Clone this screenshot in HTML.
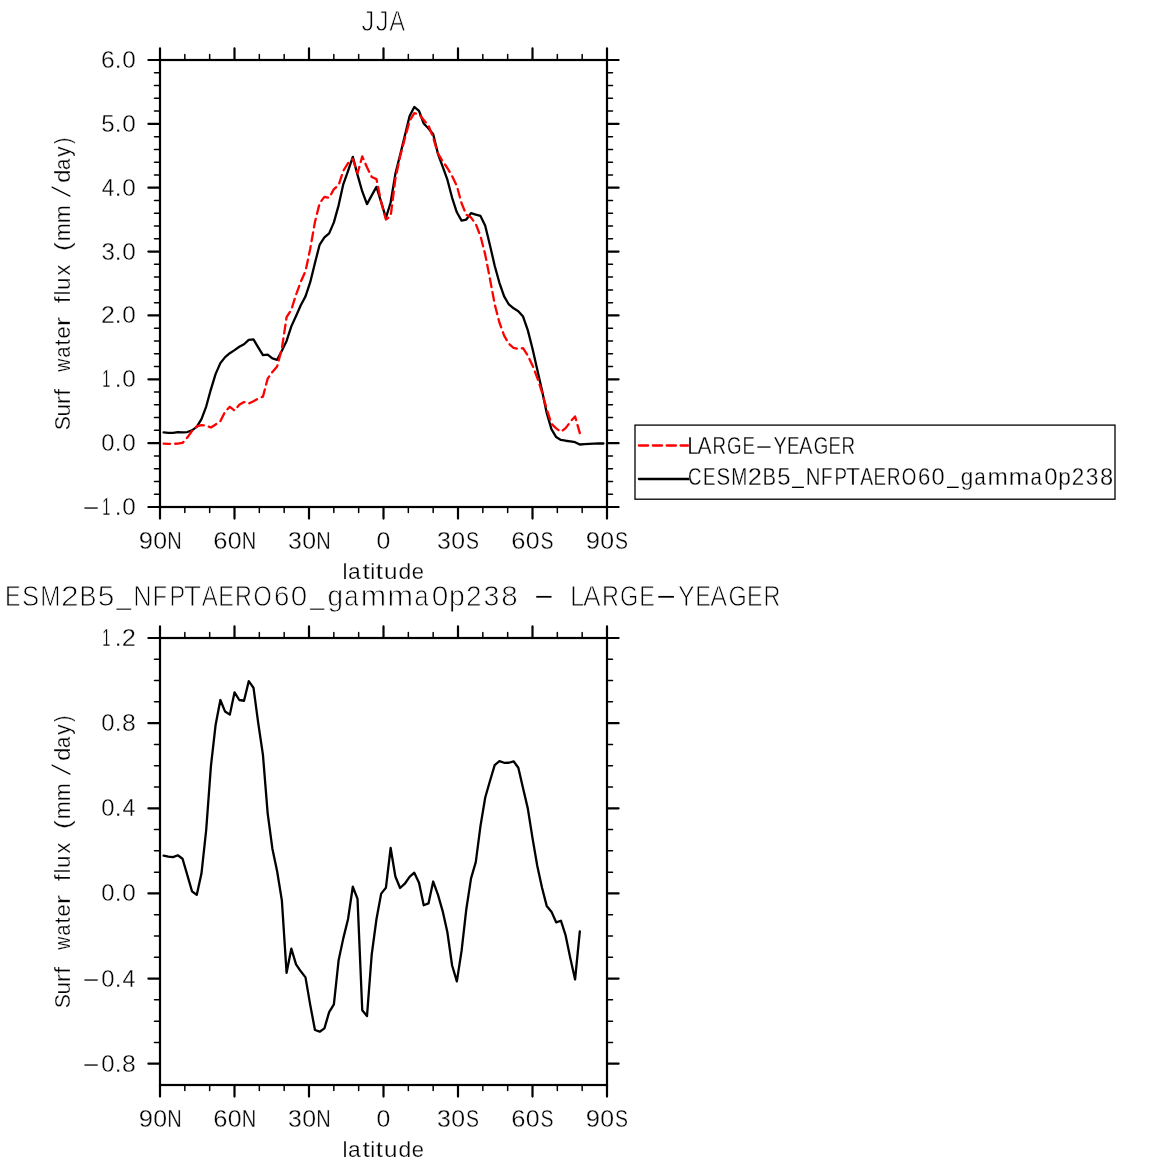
<!DOCTYPE html>
<html lang="en">
<head>
<meta charset="utf-8">
<title>JJA Surf water flux</title>
<style>
html,body{margin:0;padding:0;background:#fff;}
body{width:1167px;height:1167px;overflow:hidden;}
svg{display:block;}
text,.t{font-family:"Liberation Sans",sans-serif;fill:#000;stroke:#fff;paint-order:fill stroke;}
.frame{fill:none;stroke:#000;stroke-width:2.2;}
.maj{fill:none;stroke:#000;stroke-width:2.2;stroke-linecap:round;}
.min{fill:none;stroke:#000;stroke-width:1.5;stroke-linecap:round;}
.cb{fill:none;stroke:#000;stroke-width:2.3;stroke-linejoin:round;stroke-linecap:round;}
.cr{fill:none;stroke:#f00;stroke-width:2.3;stroke-linejoin:round;stroke-linecap:round;stroke-dasharray:8.74 5.125;stroke-dashoffset:2.3;}
.lg{stroke-dasharray:9.2 4.7;stroke-dashoffset:0;}
.lbox{fill:none;stroke:#000;stroke-width:1.3;}
</style>
</head>
<body>
<svg width="1167" height="1167" viewBox="0 0 1167 1167">
<rect x="0" y="0" width="1167" height="1167" fill="#fff"/>
<g id="plot1">
<polyline class="cb" points="163.62,432.38 168.35,432.79 173.08,432.91 177.81,432.23 182.54,432.45 187.27,432.04 192,430.32 196.73,426.89 201.46,419.2 206.19,406.56 210.92,389.31 215.64,373.87 220.37,363.16 225.1,357.11 229.83,353.16 234.56,350.1 239.29,346.79 244.02,344.22 248.75,339.81 253.48,339.46 258.21,347.38 262.94,355.07 267.67,354.61 272.4,358.46 277.13,359.8 281.86,350.7 286.59,340.94 291.32,326.39 296.05,315.92 300.78,305.2 305.5,296.36 310.23,282.22 314.96,263 319.69,244.54 324.42,237.4 329.15,233.37 333.88,222.41 338.61,205.34 343.34,184.09 348.07,170.83 352.8,156.84 357.53,174.91 362.26,191.46 366.99,204.1 371.72,195.34 376.45,186.83 381.18,202.07 385.91,217.81 390.64,202.52 395.37,173.84 400.1,154.93 404.82,135.66 409.55,116.17 414.28,106.95 419.01,110.85 423.74,123.52 428.47,128.45 433.2,134.16 437.93,153.77 442.66,166.59 447.39,179.67 452.12,197.8 456.85,212.29 461.58,220.56 466.31,219.53 471.04,213.08 475.77,214.56 480.5,215.94 485.23,225.82 489.96,245.19 494.69,265.69 499.41,282.79 504.14,296.45 508.87,304.48 513.6,308.35 518.33,311.21 523.06,316.53 527.79,330.15 532.52,348.8 537.25,369.46 541.98,390.31 546.71,412.93 551.44,429.17 556.17,437.06 560.9,439.95 565.63,440.74 570.36,441.27 575.09,442.23 579.82,444.52 584.55,444.2 589.27,443.8 594,443.6 598.73,443.5 603.46,443.5"/>
<polyline class="cr" points="163.62,443.72 168.35,443.81 173.08,443.79 177.81,443.67 182.54,442.86 187.27,437.63 192,430.96 196.73,426.45 201.46,425.14 206.19,425.59 210.92,427.51 215.64,424.48 220.37,421.18 225.1,411.67 229.83,406.8 234.56,410.43 239.29,404.81 244.02,402.03 248.75,403.49 253.48,401.17 258.21,398.57 262.94,396.63 267.67,378.65 272.4,371.89 277.13,366.46 281.86,348.62 286.59,317.12 291.32,309.82 296.05,294.64 300.78,281.84 305.5,271.18 310.23,248.79 314.96,222.02 319.69,203.06 324.42,196.91 329.15,197.76 333.88,189.12 338.61,185.27 343.34,170.68 348.07,163.18 352.8,158.85 357.53,173.25 362.26,156.41 366.99,167.31 371.72,177.02 376.45,179.08 381.18,202 385.91,219.49 390.64,216.15 395.37,178.92 400.1,156.56 404.82,138.57 409.55,121.12 414.28,113.19 419.01,114.09 423.74,119.97 428.47,125.45 433.2,137.74 437.93,153.42 442.66,161.3 447.39,168 452.12,176.18 456.85,185.92 461.58,203.31 466.31,214.79 471.04,217.59 475.77,223.97 480.5,236.19 485.23,254.6 489.96,278.93 494.69,304.16 499.41,322.5 504.14,335.64 508.87,343.68 513.6,347.99 518.33,348.92 523.06,348.09 527.79,355.66 532.52,365.38 537.25,377.75 541.98,392.07 546.71,409.19 551.44,423.71 556.17,428.38 560.9,431.76 565.63,428.13 570.36,421.79 575.09,416.44 579.82,433.12"/>
<path class="maj" d="M160 60V48.4M160 507V518.6M234.5 60V48.4M234.5 507V518.6M309 60V48.4M309 507V518.6M383.5 60V48.4M383.5 507V518.6M458 60V48.4M458 507V518.6M532.5 60V48.4M532.5 507V518.6M607 60V48.4M607 507V518.6M160 507H148.4M607 507H618.6M160 443.14H148.4M607 443.14H618.6M160 379.29H148.4M607 379.29H618.6M160 315.43H148.4M607 315.43H618.6M160 251.57H148.4M607 251.57H618.6M160 187.71H148.4M607 187.71H618.6M160 123.86H148.4M607 123.86H618.6M160 60H148.4M607 60H618.6"/>
<path class="min" d="M184.83 60V54.5M184.83 507V512.5M209.67 60V54.5M209.67 507V512.5M259.33 60V54.5M259.33 507V512.5M284.17 60V54.5M284.17 507V512.5M333.83 60V54.5M333.83 507V512.5M358.67 60V54.5M358.67 507V512.5M408.33 60V54.5M408.33 507V512.5M433.17 60V54.5M433.17 507V512.5M482.83 60V54.5M482.83 507V512.5M507.67 60V54.5M507.67 507V512.5M557.33 60V54.5M557.33 507V512.5M582.17 60V54.5M582.17 507V512.5M160 494.23H154.5M607 494.23H612.5M160 481.46H154.5M607 481.46H612.5M160 468.69H154.5M607 468.69H612.5M160 455.91H154.5M607 455.91H612.5M160 430.37H154.5M607 430.37H612.5M160 417.6H154.5M607 417.6H612.5M160 404.83H154.5M607 404.83H612.5M160 392.06H154.5M607 392.06H612.5M160 366.51H154.5M607 366.51H612.5M160 353.74H154.5M607 353.74H612.5M160 340.97H154.5M607 340.97H612.5M160 328.2H154.5M607 328.2H612.5M160 302.66H154.5M607 302.66H612.5M160 289.89H154.5M607 289.89H612.5M160 277.11H154.5M607 277.11H612.5M160 264.34H154.5M607 264.34H612.5M160 238.8H154.5M607 238.8H612.5M160 226.03H154.5M607 226.03H612.5M160 213.26H154.5M607 213.26H612.5M160 200.49H154.5M607 200.49H612.5M160 174.94H154.5M607 174.94H612.5M160 162.17H154.5M607 162.17H612.5M160 149.4H154.5M607 149.4H612.5M160 136.63H154.5M607 136.63H612.5M160 111.09H154.5M607 111.09H612.5M160 98.31H154.5M607 98.31H612.5M160 85.54H154.5M607 85.54H612.5M160 72.77H154.5M607 72.77H612.5"/>
<rect class="frame" x="160" y="60" width="447" height="447"/>
</g>
<g id="plot2">
<polyline class="cb" points="163.62,855.64 168.35,856.67 173.08,857.17 177.81,855.29 182.54,858.72 187.27,874.81 192,891.29 196.73,894.9 201.46,873.62 206.19,830 210.92,766.08 215.64,724.7 220.37,700.03 225.1,711.57 229.83,714.62 234.56,692.33 239.29,700 244.02,700.75 248.75,681.15 253.48,687.72 258.21,722.79 262.94,754.89 267.67,813.29 272.4,848.65 277.13,871.21 281.86,900.35 286.59,972.83 291.32,948.66 296.05,964.38 300.78,971.28 305.5,977.35 310.23,1004.86 314.96,1030.02 319.69,1031.7 324.42,1028.39 329.15,1012.13 333.88,1004.38 338.61,960.35 343.34,938.13 348.07,918.93 352.8,886.72 357.53,898.95 362.26,1010.27 366.99,1016.08 371.72,954.52 376.45,919.26 381.18,893.64 385.91,887.85 390.64,848 395.37,876.51 400.1,888.01 404.82,883.72 409.55,876.91 414.28,872.65 419.01,882.64 423.74,905.25 428.47,903.43 433.2,881.52 437.93,894.61 442.66,911.07 447.39,932.33 452.12,965.48 456.85,981.32 461.58,950.94 466.31,909.21 471.04,878.41 475.77,862.06 480.5,825.91 485.23,797.51 489.96,780.97 494.69,765.19 499.41,761.08 504.14,762.79 508.87,762.75 513.6,761.3 518.33,767.73 523.06,788.23 527.79,808.37 532.52,838.18 537.25,865.79 541.98,887.54 546.71,905.9 551.44,911.65 556.17,922.34 560.9,920.72 565.63,935.47 570.36,958.37 575.09,979.4 579.82,931.42"/>
<path class="maj" d="M160 638V626.4M160 1085V1096.6M234.5 638V626.4M234.5 1085V1096.6M309 638V626.4M309 1085V1096.6M383.5 638V626.4M383.5 1085V1096.6M458 638V626.4M458 1085V1096.6M532.5 638V626.4M532.5 1085V1096.6M607 638V626.4M607 1085V1096.6M160 638H148.4M607 638H618.6M160 723.14H148.4M607 723.14H618.6M160 808.29H148.4M607 808.29H618.6M160 893.43H148.4M607 893.43H618.6M160 978.57H148.4M607 978.57H618.6M160 1063.71H148.4M607 1063.71H618.6"/>
<path class="min" d="M184.83 638V632.5M184.83 1085V1090.5M209.67 638V632.5M209.67 1085V1090.5M259.33 638V632.5M259.33 1085V1090.5M284.17 638V632.5M284.17 1085V1090.5M333.83 638V632.5M333.83 1085V1090.5M358.67 638V632.5M358.67 1085V1090.5M408.33 638V632.5M408.33 1085V1090.5M433.17 638V632.5M433.17 1085V1090.5M482.83 638V632.5M482.83 1085V1090.5M507.67 638V632.5M507.67 1085V1090.5M557.33 638V632.5M557.33 1085V1090.5M582.17 638V632.5M582.17 1085V1090.5M160 1042.43H154.5M607 1042.43H612.5M160 1021.14H154.5M607 1021.14H612.5M160 999.86H154.5M607 999.86H612.5M160 957.29H154.5M607 957.29H612.5M160 936H154.5M607 936H612.5M160 914.71H154.5M607 914.71H612.5M160 872.14H154.5M607 872.14H612.5M160 850.86H154.5M607 850.86H612.5M160 829.57H154.5M607 829.57H612.5M160 787H154.5M607 787H612.5M160 765.71H154.5M607 765.71H612.5M160 744.43H154.5M607 744.43H612.5M160 701.86H154.5M607 701.86H612.5M160 680.57H154.5M607 680.57H612.5M160 659.29H154.5M607 659.29H612.5"/>
<rect class="frame" x="160" y="638" width="447" height="447"/>
</g>
<text class="t" font-size="24.3" stroke-width="0.34"><tspan x="138.8" y="548.6" textLength="14.21" lengthAdjust="spacingAndGlyphs">9</tspan><tspan x="153.33" y="548.6" textLength="13.84" lengthAdjust="spacingAndGlyphs">0</tspan><tspan x="167.36" y="548.6" textLength="14.48" lengthAdjust="spacingAndGlyphs">N</tspan></text>
<text class="t" font-size="24.3" stroke-width="0.34"><tspan x="213.2" y="548.6" textLength="14.22" lengthAdjust="spacingAndGlyphs">6</tspan><tspan x="227.83" y="548.6" textLength="13.84" lengthAdjust="spacingAndGlyphs">0</tspan><tspan x="241.86" y="548.6" textLength="14.48" lengthAdjust="spacingAndGlyphs">N</tspan></text>
<text class="t" font-size="24.3" stroke-width="0.34"><tspan x="288.05" y="548.6" textLength="13.84" lengthAdjust="spacingAndGlyphs">3</tspan><tspan x="302.33" y="548.6" textLength="13.84" lengthAdjust="spacingAndGlyphs">0</tspan><tspan x="316.36" y="548.6" textLength="14.48" lengthAdjust="spacingAndGlyphs">N</tspan></text>
<text class="t" font-size="24.3" stroke-width="0.34"><tspan x="376.58" y="548.6" textLength="13.84" lengthAdjust="spacingAndGlyphs">0</tspan></text>
<text class="t" font-size="24.3" stroke-width="0.34"><tspan x="437.05" y="548.6" textLength="13.84" lengthAdjust="spacingAndGlyphs">3</tspan><tspan x="451.33" y="548.6" textLength="13.84" lengthAdjust="spacingAndGlyphs">0</tspan><tspan x="466.12" y="548.6" textLength="12.98" lengthAdjust="spacingAndGlyphs">S</tspan></text>
<text class="t" font-size="24.3" stroke-width="0.34"><tspan x="511.2" y="548.6" textLength="14.22" lengthAdjust="spacingAndGlyphs">6</tspan><tspan x="525.83" y="548.6" textLength="13.84" lengthAdjust="spacingAndGlyphs">0</tspan><tspan x="540.62" y="548.6" textLength="12.98" lengthAdjust="spacingAndGlyphs">S</tspan></text>
<text class="t" font-size="24.3" stroke-width="0.34"><tspan x="585.8" y="548.6" textLength="14.21" lengthAdjust="spacingAndGlyphs">9</tspan><tspan x="600.33" y="548.6" textLength="13.84" lengthAdjust="spacingAndGlyphs">0</tspan><tspan x="615.12" y="548.6" textLength="12.98" lengthAdjust="spacingAndGlyphs">S</tspan></text>
<text class="t" font-size="24.3" stroke-width="0.34"><tspan x="138.8" y="1126.6" textLength="14.21" lengthAdjust="spacingAndGlyphs">9</tspan><tspan x="153.33" y="1126.6" textLength="13.84" lengthAdjust="spacingAndGlyphs">0</tspan><tspan x="167.36" y="1126.6" textLength="14.48" lengthAdjust="spacingAndGlyphs">N</tspan></text>
<text class="t" font-size="24.3" stroke-width="0.34"><tspan x="213.2" y="1126.6" textLength="14.22" lengthAdjust="spacingAndGlyphs">6</tspan><tspan x="227.83" y="1126.6" textLength="13.84" lengthAdjust="spacingAndGlyphs">0</tspan><tspan x="241.86" y="1126.6" textLength="14.48" lengthAdjust="spacingAndGlyphs">N</tspan></text>
<text class="t" font-size="24.3" stroke-width="0.34"><tspan x="288.05" y="1126.6" textLength="13.84" lengthAdjust="spacingAndGlyphs">3</tspan><tspan x="302.33" y="1126.6" textLength="13.84" lengthAdjust="spacingAndGlyphs">0</tspan><tspan x="316.36" y="1126.6" textLength="14.48" lengthAdjust="spacingAndGlyphs">N</tspan></text>
<text class="t" font-size="24.3" stroke-width="0.34"><tspan x="376.58" y="1126.6" textLength="13.84" lengthAdjust="spacingAndGlyphs">0</tspan></text>
<text class="t" font-size="24.3" stroke-width="0.34"><tspan x="437.05" y="1126.6" textLength="13.84" lengthAdjust="spacingAndGlyphs">3</tspan><tspan x="451.33" y="1126.6" textLength="13.84" lengthAdjust="spacingAndGlyphs">0</tspan><tspan x="466.12" y="1126.6" textLength="12.98" lengthAdjust="spacingAndGlyphs">S</tspan></text>
<text class="t" font-size="24.3" stroke-width="0.34"><tspan x="511.2" y="1126.6" textLength="14.22" lengthAdjust="spacingAndGlyphs">6</tspan><tspan x="525.83" y="1126.6" textLength="13.84" lengthAdjust="spacingAndGlyphs">0</tspan><tspan x="540.62" y="1126.6" textLength="12.98" lengthAdjust="spacingAndGlyphs">S</tspan></text>
<text class="t" font-size="24.3" stroke-width="0.34"><tspan x="585.8" y="1126.6" textLength="14.21" lengthAdjust="spacingAndGlyphs">9</tspan><tspan x="600.33" y="1126.6" textLength="13.84" lengthAdjust="spacingAndGlyphs">0</tspan><tspan x="615.12" y="1126.6" textLength="12.98" lengthAdjust="spacingAndGlyphs">S</tspan></text>
<text class="t" font-size="24.3" stroke-width="0.34"><tspan x="101.05" y="68" textLength="13.74" lengthAdjust="spacingAndGlyphs">6</tspan><tspan x="114.87" y="68">.</tspan><tspan x="122.15" y="68" textLength="13.5" lengthAdjust="spacingAndGlyphs">0</tspan></text>
<text class="t" font-size="24.3" stroke-width="0.34"><tspan x="101.34" y="131.86" textLength="13.37" lengthAdjust="spacingAndGlyphs">5</tspan><tspan x="114.87" y="131.86">.</tspan><tspan x="122.15" y="131.86" textLength="13.5" lengthAdjust="spacingAndGlyphs">0</tspan></text>
<text class="t" font-size="24.3" stroke-width="0.34"><tspan x="101.78" y="195.71" textLength="12.58" lengthAdjust="spacingAndGlyphs">4</tspan><tspan x="114.87" y="195.71">.</tspan><tspan x="122.15" y="195.71" textLength="13.5" lengthAdjust="spacingAndGlyphs">0</tspan></text>
<text class="t" font-size="24.3" stroke-width="0.34"><tspan x="101.38" y="259.57" textLength="13.37" lengthAdjust="spacingAndGlyphs">3</tspan><tspan x="114.87" y="259.57">.</tspan><tspan x="122.15" y="259.57" textLength="13.5" lengthAdjust="spacingAndGlyphs">0</tspan></text>
<text class="t" font-size="24.3" stroke-width="0.34"><tspan x="101.04" y="323.43" textLength="13.92" lengthAdjust="spacingAndGlyphs">2</tspan><tspan x="114.87" y="323.43">.</tspan><tspan x="122.15" y="323.43" textLength="13.5" lengthAdjust="spacingAndGlyphs">0</tspan></text>
<text class="t" font-size="24.3" stroke-width="0.34"><tspan x="102.19" y="387.29" textLength="8.13" lengthAdjust="spacingAndGlyphs">1</tspan><tspan x="114.87" y="387.29">.</tspan><tspan x="122.15" y="387.29" textLength="13.5" lengthAdjust="spacingAndGlyphs">0</tspan></text>
<text class="t" font-size="24.3" stroke-width="0.34"><tspan x="101.37" y="451.14" textLength="13.26" lengthAdjust="spacingAndGlyphs">0</tspan><tspan x="114.87" y="451.14">.</tspan><tspan x="122.15" y="451.14" textLength="13.5" lengthAdjust="spacingAndGlyphs">0</tspan></text>
<text class="t" font-size="24.3" stroke-width="0.34"><tspan x="81.55" y="514.27" textLength="19.1" lengthAdjust="spacingAndGlyphs" stroke-width="0.3">-</tspan><tspan x="102.19" y="515" textLength="8.13" lengthAdjust="spacingAndGlyphs">1</tspan><tspan x="114.87" y="515">.</tspan><tspan x="122.15" y="515" textLength="13.5" lengthAdjust="spacingAndGlyphs">0</tspan></text>
<text class="t" font-size="24.3" stroke-width="0.34"><tspan x="102.19" y="646" textLength="8.13" lengthAdjust="spacingAndGlyphs">1</tspan><tspan x="114.87" y="646">.</tspan><tspan x="121.82" y="646" textLength="14.16" lengthAdjust="spacingAndGlyphs">2</tspan></text>
<text class="t" font-size="24.3" stroke-width="0.34"><tspan x="101.37" y="731.14" textLength="13.26" lengthAdjust="spacingAndGlyphs">0</tspan><tspan x="114.87" y="731.14">.</tspan><tspan x="122.03" y="731.14" textLength="13.75" lengthAdjust="spacingAndGlyphs">8</tspan></text>
<text class="t" font-size="24.3" stroke-width="0.34"><tspan x="101.37" y="816.29" textLength="13.26" lengthAdjust="spacingAndGlyphs">0</tspan><tspan x="114.87" y="816.29">.</tspan><tspan x="122.57" y="816.29" textLength="12.8" lengthAdjust="spacingAndGlyphs">4</tspan></text>
<text class="t" font-size="24.3" stroke-width="0.34"><tspan x="101.37" y="901.43" textLength="13.26" lengthAdjust="spacingAndGlyphs">0</tspan><tspan x="114.87" y="901.43">.</tspan><tspan x="122.15" y="901.43" textLength="13.5" lengthAdjust="spacingAndGlyphs">0</tspan></text>
<text class="t" font-size="24.3" stroke-width="0.34"><tspan x="81.55" y="985.84" textLength="19.1" lengthAdjust="spacingAndGlyphs" stroke-width="0.3">-</tspan><tspan x="101.37" y="986.57" textLength="13.26" lengthAdjust="spacingAndGlyphs">0</tspan><tspan x="114.87" y="986.57">.</tspan><tspan x="122.57" y="986.57" textLength="12.8" lengthAdjust="spacingAndGlyphs">4</tspan></text>
<text class="t" font-size="24.3" stroke-width="0.34"><tspan x="81.55" y="1070.99" textLength="19.1" lengthAdjust="spacingAndGlyphs" stroke-width="0.3">-</tspan><tspan x="101.37" y="1071.71" textLength="13.26" lengthAdjust="spacingAndGlyphs">0</tspan><tspan x="114.87" y="1071.71">.</tspan><tspan x="122.03" y="1071.71" textLength="13.75" lengthAdjust="spacingAndGlyphs">8</tspan></text>
<text class="t" font-size="22.4" stroke-width="0.25"><tspan x="342.42" y="578.8">l</tspan><tspan x="348.05" y="578.8" textLength="12.7" lengthAdjust="spacingAndGlyphs">a</tspan><tspan x="362.51" y="578.8" textLength="7.27" lengthAdjust="spacingAndGlyphs">t</tspan><tspan x="370.19" y="578.8">i</tspan><tspan x="375.88" y="578.8" textLength="7.27" lengthAdjust="spacingAndGlyphs">t</tspan><tspan x="383.96" y="578.8" textLength="13.46" lengthAdjust="spacingAndGlyphs">u</tspan><tspan x="398.45" y="578.8" textLength="12.72" lengthAdjust="spacingAndGlyphs">d</tspan><tspan x="411.85" y="578.8" textLength="12.19" lengthAdjust="spacingAndGlyphs">e</tspan></text>
<text class="t" font-size="22.4" stroke-width="0.25"><tspan x="342.42" y="1156.8">l</tspan><tspan x="348.05" y="1156.8" textLength="12.7" lengthAdjust="spacingAndGlyphs">a</tspan><tspan x="362.51" y="1156.8" textLength="7.27" lengthAdjust="spacingAndGlyphs">t</tspan><tspan x="370.19" y="1156.8">i</tspan><tspan x="375.88" y="1156.8" textLength="7.27" lengthAdjust="spacingAndGlyphs">t</tspan><tspan x="383.96" y="1156.8" textLength="13.46" lengthAdjust="spacingAndGlyphs">u</tspan><tspan x="398.45" y="1156.8" textLength="12.72" lengthAdjust="spacingAndGlyphs">d</tspan><tspan x="411.85" y="1156.8" textLength="12.19" lengthAdjust="spacingAndGlyphs">e</tspan></text>
<text class="t" font-size="22.4" stroke-width="0.25" transform="rotate(-90)"><tspan x="-430.37" y="69.6" textLength="14.25" lengthAdjust="spacingAndGlyphs">S</tspan><tspan x="-416.47" y="69.6" textLength="12.57" lengthAdjust="spacingAndGlyphs">u</tspan><tspan x="-404.35" y="69.6" textLength="8.26" lengthAdjust="spacingAndGlyphs">r</tspan><tspan x="-395.53" y="69.6" textLength="6.5" lengthAdjust="spacingAndGlyphs">f</tspan><tspan x="-389.03" y="69.6"> </tspan><tspan x="-371.87" y="69.6" textLength="13.03" lengthAdjust="spacingAndGlyphs">w</tspan><tspan x="-357.66" y="69.6" textLength="11.3" lengthAdjust="spacingAndGlyphs">a</tspan><tspan x="-345.43" y="69.6" textLength="5.98" lengthAdjust="spacingAndGlyphs">t</tspan><tspan x="-338.53" y="69.6" textLength="12.21" lengthAdjust="spacingAndGlyphs">e</tspan><tspan x="-326.16" y="69.6" textLength="9.32" lengthAdjust="spacingAndGlyphs">r</tspan><tspan x="-316.84" y="69.6"> </tspan><tspan x="-302.93" y="69.6" textLength="6.39" lengthAdjust="spacingAndGlyphs">f</tspan><tspan x="-295.49" y="69.6">l</tspan><tspan x="-289.95" y="69.6" textLength="12.44" lengthAdjust="spacingAndGlyphs">u</tspan><tspan x="-275.54" y="69.6" textLength="10.77" lengthAdjust="spacingAndGlyphs">x</tspan><tspan x="-264.77" y="69.6"> </tspan><tspan x="-250.91" y="69.6" textLength="8.67" lengthAdjust="spacingAndGlyphs">(</tspan><tspan x="-241.13" y="69.6" textLength="17.95" lengthAdjust="spacingAndGlyphs">m</tspan><tspan x="-223.33" y="69.6" textLength="17.95" lengthAdjust="spacingAndGlyphs">m</tspan><tspan x="-198.6" y="70.94" textLength="13.8" lengthAdjust="spacingAndGlyphs" font-size="27.33" stroke-width="1.25">/</tspan><tspan x="-183.13" y="69.6" textLength="13.6" lengthAdjust="spacingAndGlyphs">d</tspan><tspan x="-169.96" y="69.6" textLength="11.3" lengthAdjust="spacingAndGlyphs">a</tspan><tspan x="-156.75" y="69.6" textLength="10.29" lengthAdjust="spacingAndGlyphs">y</tspan><tspan x="-143.81" y="69.6" textLength="6.03" lengthAdjust="spacingAndGlyphs">)</tspan></text>
<text class="t" font-size="22.4" stroke-width="0.25" transform="rotate(-90)"><tspan x="-1008.37" y="69.6" textLength="14.25" lengthAdjust="spacingAndGlyphs">S</tspan><tspan x="-994.47" y="69.6" textLength="12.57" lengthAdjust="spacingAndGlyphs">u</tspan><tspan x="-982.35" y="69.6" textLength="8.26" lengthAdjust="spacingAndGlyphs">r</tspan><tspan x="-973.53" y="69.6" textLength="6.5" lengthAdjust="spacingAndGlyphs">f</tspan><tspan x="-967.03" y="69.6"> </tspan><tspan x="-949.87" y="69.6" textLength="13.03" lengthAdjust="spacingAndGlyphs">w</tspan><tspan x="-935.66" y="69.6" textLength="11.3" lengthAdjust="spacingAndGlyphs">a</tspan><tspan x="-923.43" y="69.6" textLength="5.98" lengthAdjust="spacingAndGlyphs">t</tspan><tspan x="-916.53" y="69.6" textLength="12.21" lengthAdjust="spacingAndGlyphs">e</tspan><tspan x="-904.16" y="69.6" textLength="9.32" lengthAdjust="spacingAndGlyphs">r</tspan><tspan x="-894.84" y="69.6"> </tspan><tspan x="-880.93" y="69.6" textLength="6.39" lengthAdjust="spacingAndGlyphs">f</tspan><tspan x="-873.49" y="69.6">l</tspan><tspan x="-867.95" y="69.6" textLength="12.44" lengthAdjust="spacingAndGlyphs">u</tspan><tspan x="-853.54" y="69.6" textLength="10.77" lengthAdjust="spacingAndGlyphs">x</tspan><tspan x="-842.77" y="69.6"> </tspan><tspan x="-828.91" y="69.6" textLength="8.67" lengthAdjust="spacingAndGlyphs">(</tspan><tspan x="-819.13" y="69.6" textLength="17.95" lengthAdjust="spacingAndGlyphs">m</tspan><tspan x="-801.33" y="69.6" textLength="17.95" lengthAdjust="spacingAndGlyphs">m</tspan><tspan x="-776.6" y="70.94" textLength="13.8" lengthAdjust="spacingAndGlyphs" font-size="27.33" stroke-width="1.25">/</tspan><tspan x="-761.13" y="69.6" textLength="13.6" lengthAdjust="spacingAndGlyphs">d</tspan><tspan x="-747.96" y="69.6" textLength="11.3" lengthAdjust="spacingAndGlyphs">a</tspan><tspan x="-734.75" y="69.6" textLength="10.29" lengthAdjust="spacingAndGlyphs">y</tspan><tspan x="-721.81" y="69.6" textLength="6.03" lengthAdjust="spacingAndGlyphs">)</tspan></text>
<text class="t" font-size="30" stroke-width="0.84"><tspan x="361.4" y="30.6" textLength="12.92" lengthAdjust="spacingAndGlyphs">J</tspan><tspan x="375.7" y="30.6" textLength="12.92" lengthAdjust="spacingAndGlyphs">J</tspan><tspan x="389.35" y="30.6" textLength="15.89" lengthAdjust="spacingAndGlyphs">A</tspan></text>
<text class="t" font-size="30" stroke-width="0.84"><tspan x="-17.7" y="605.8" textLength="17.1" lengthAdjust="spacingAndGlyphs">C</tspan><tspan x="4.94" y="605.8" textLength="15.61" lengthAdjust="spacingAndGlyphs">E</tspan><tspan x="21.91" y="605.8" textLength="17.09" lengthAdjust="spacingAndGlyphs">S</tspan><tspan x="40.35" y="605.8" textLength="20.08" lengthAdjust="spacingAndGlyphs">M</tspan><tspan x="60.98" y="605.8" textLength="17.7" lengthAdjust="spacingAndGlyphs">2</tspan><tspan x="79.5" y="605.8" textLength="16.92" lengthAdjust="spacingAndGlyphs">B</tspan><tspan x="97.76" y="605.8" textLength="16.57" lengthAdjust="spacingAndGlyphs">5</tspan><tspan x="116.6" y="603.55" textLength="14.44" lengthAdjust="spacingAndGlyphs" stroke-width="0.6">_</tspan><tspan x="133.37" y="605.8" textLength="18.42" lengthAdjust="spacingAndGlyphs">N</tspan><tspan x="152.64" y="605.8" textLength="14.29" lengthAdjust="spacingAndGlyphs">F</tspan><tspan x="169.44" y="605.8" textLength="15.61" lengthAdjust="spacingAndGlyphs">P</tspan><tspan x="183.7" y="605.8" textLength="17.42" lengthAdjust="spacingAndGlyphs">T</tspan><tspan x="201.67" y="605.8" textLength="16.1" lengthAdjust="spacingAndGlyphs">A</tspan><tspan x="218.21" y="605.8" textLength="15.61" lengthAdjust="spacingAndGlyphs">E</tspan><tspan x="235.04" y="605.8" textLength="16.9" lengthAdjust="spacingAndGlyphs">R</tspan><tspan x="253.44" y="605.8" textLength="18.2" lengthAdjust="spacingAndGlyphs">O</tspan><tspan x="273.94" y="605.8" textLength="15.37" lengthAdjust="spacingAndGlyphs">6</tspan><tspan x="290.82" y="605.8" textLength="16.43" lengthAdjust="spacingAndGlyphs">0</tspan><tspan x="310.36" y="603.55" textLength="14.2" lengthAdjust="spacingAndGlyphs" stroke-width="0.6">_</tspan><tspan x="327.42" y="605.8" textLength="15.61" lengthAdjust="spacingAndGlyphs">g</tspan><tspan x="344.25" y="605.8" textLength="14.42" lengthAdjust="spacingAndGlyphs">a</tspan><tspan x="360.7" y="605.8" textLength="25.41" lengthAdjust="spacingAndGlyphs">m</tspan><tspan x="387.29" y="605.8" textLength="25.86" lengthAdjust="spacingAndGlyphs">m</tspan><tspan x="414.53" y="605.8" textLength="14.12" lengthAdjust="spacingAndGlyphs">a</tspan><tspan x="431.69" y="605.8" textLength="16.58" lengthAdjust="spacingAndGlyphs">0</tspan><tspan x="449.03" y="605.8" textLength="15.77" lengthAdjust="spacingAndGlyphs">p</tspan><tspan x="465.95" y="605.8" textLength="15.57" lengthAdjust="spacingAndGlyphs">2</tspan><tspan x="483.53" y="605.8" textLength="15.84" lengthAdjust="spacingAndGlyphs">3</tspan><tspan x="501.33" y="605.8" textLength="16.45" lengthAdjust="spacingAndGlyphs">8</tspan><tspan x="517.78" y="605.8"> </tspan><tspan x="532.29" y="604.9" textLength="23.32" lengthAdjust="spacingAndGlyphs" stroke-width="0.74">-</tspan><tspan x="555.61" y="605.8"> </tspan><tspan x="569.99" y="605.8" textLength="15.01" lengthAdjust="spacingAndGlyphs">L</tspan><tspan x="582.92" y="605.8" textLength="17.64" lengthAdjust="spacingAndGlyphs">A</tspan><tspan x="601.91" y="605.8" textLength="16.9" lengthAdjust="spacingAndGlyphs">R</tspan><tspan x="619.99" y="605.8" textLength="18.2" lengthAdjust="spacingAndGlyphs">G</tspan><tspan x="639.33" y="605.8" textLength="15.61" lengthAdjust="spacingAndGlyphs">E</tspan><tspan x="654.32" y="604.9" textLength="23.75" lengthAdjust="spacingAndGlyphs" stroke-width="0.74">-</tspan><tspan x="678.11" y="605.8" textLength="16.63" lengthAdjust="spacingAndGlyphs">Y</tspan><tspan x="695.13" y="605.8" textLength="15.61" lengthAdjust="spacingAndGlyphs">E</tspan><tspan x="710.17" y="605.8" textLength="16.88" lengthAdjust="spacingAndGlyphs">A</tspan><tspan x="728.51" y="605.8" textLength="18.2" lengthAdjust="spacingAndGlyphs">G</tspan><tspan x="747.04" y="605.8" textLength="15.61" lengthAdjust="spacingAndGlyphs">E</tspan><tspan x="763.47" y="605.8" textLength="16.9" lengthAdjust="spacingAndGlyphs">R</tspan></text>
<rect class="lbox" x="635" y="425.1" width="480" height="74.1"/>
<line class="cr lg" x1="638.9" y1="445.5" x2="689" y2="445.5"/>
<line class="cb" x1="638.9" y1="479" x2="689" y2="479"/>
<text class="t" font-size="24" stroke-width="0.31"><tspan x="687.13" y="453.6" textLength="11.98" lengthAdjust="spacingAndGlyphs">L</tspan><tspan x="697.46" y="453.6" textLength="14.08" lengthAdjust="spacingAndGlyphs">A</tspan><tspan x="712.61" y="453.6" textLength="13.52" lengthAdjust="spacingAndGlyphs">R</tspan><tspan x="727.05" y="453.6" textLength="14.56" lengthAdjust="spacingAndGlyphs">G</tspan><tspan x="742.49" y="453.6" textLength="12.49" lengthAdjust="spacingAndGlyphs">E</tspan><tspan x="754.47" y="452.88" textLength="18.96" lengthAdjust="spacingAndGlyphs" stroke-width="0.27">-</tspan><tspan x="773.46" y="453.6" textLength="13.27" lengthAdjust="spacingAndGlyphs">Y</tspan><tspan x="787.04" y="453.6" textLength="12.49" lengthAdjust="spacingAndGlyphs">E</tspan><tspan x="799.06" y="453.6" textLength="13.48" lengthAdjust="spacingAndGlyphs">A</tspan><tspan x="813.7" y="453.6" textLength="14.56" lengthAdjust="spacingAndGlyphs">G</tspan><tspan x="828.49" y="453.6" textLength="12.49" lengthAdjust="spacingAndGlyphs">E</tspan><tspan x="841.61" y="453.6" textLength="13.52" lengthAdjust="spacingAndGlyphs">R</tspan></text>
<text class="t" font-size="24" stroke-width="0.31"><tspan x="688.12" y="484.5" textLength="13.52" lengthAdjust="spacingAndGlyphs">C</tspan><tspan x="702.89" y="484.5" textLength="12.49" lengthAdjust="spacingAndGlyphs">E</tspan><tspan x="716.47" y="484.5" textLength="13.67" lengthAdjust="spacingAndGlyphs">S</tspan><tspan x="731.22" y="484.5" textLength="16.06" lengthAdjust="spacingAndGlyphs">M</tspan><tspan x="747.72" y="484.5" textLength="14.16" lengthAdjust="spacingAndGlyphs">2</tspan><tspan x="762.54" y="484.5" textLength="13.53" lengthAdjust="spacingAndGlyphs">B</tspan><tspan x="777.15" y="484.5" textLength="13.26" lengthAdjust="spacingAndGlyphs">5</tspan><tspan x="792.21" y="482.7" textLength="11.55" lengthAdjust="spacingAndGlyphs" stroke-width="0.22">_</tspan><tspan x="805.63" y="484.5" textLength="14.74" lengthAdjust="spacingAndGlyphs">N</tspan><tspan x="821.04" y="484.5" textLength="11.43" lengthAdjust="spacingAndGlyphs">F</tspan><tspan x="834.48" y="484.5" textLength="12.49" lengthAdjust="spacingAndGlyphs">P</tspan><tspan x="845.89" y="484.5" textLength="13.94" lengthAdjust="spacingAndGlyphs">T</tspan><tspan x="860.26" y="484.5" textLength="12.88" lengthAdjust="spacingAndGlyphs">A</tspan><tspan x="873.49" y="484.5" textLength="12.49" lengthAdjust="spacingAndGlyphs">E</tspan><tspan x="886.96" y="484.5" textLength="13.52" lengthAdjust="spacingAndGlyphs">R</tspan><tspan x="901.67" y="484.5" textLength="14.56" lengthAdjust="spacingAndGlyphs">O</tspan><tspan x="918.08" y="484.5" textLength="12.29" lengthAdjust="spacingAndGlyphs">6</tspan><tspan x="931.58" y="484.5" textLength="13.15" lengthAdjust="spacingAndGlyphs">0</tspan><tspan x="947.21" y="482.7" textLength="11.36" lengthAdjust="spacingAndGlyphs" stroke-width="0.22">_</tspan><tspan x="960.86" y="484.5" textLength="12.49" lengthAdjust="spacingAndGlyphs">g</tspan><tspan x="974.32" y="484.5" textLength="11.53" lengthAdjust="spacingAndGlyphs">a</tspan><tspan x="987.48" y="484.5" textLength="20.33" lengthAdjust="spacingAndGlyphs">m</tspan><tspan x="1008.75" y="484.5" textLength="20.69" lengthAdjust="spacingAndGlyphs">m</tspan><tspan x="1030.54" y="484.5" textLength="11.3" lengthAdjust="spacingAndGlyphs">a</tspan><tspan x="1044.27" y="484.5" textLength="13.26" lengthAdjust="spacingAndGlyphs">0</tspan><tspan x="1058.14" y="484.5" textLength="12.61" lengthAdjust="spacingAndGlyphs">p</tspan><tspan x="1071.67" y="484.5" textLength="12.45" lengthAdjust="spacingAndGlyphs">2</tspan><tspan x="1085.73" y="484.5" textLength="12.67" lengthAdjust="spacingAndGlyphs">3</tspan><tspan x="1099.97" y="484.5" textLength="13.16" lengthAdjust="spacingAndGlyphs">8</tspan></text>
</svg>
</body>
</html>
